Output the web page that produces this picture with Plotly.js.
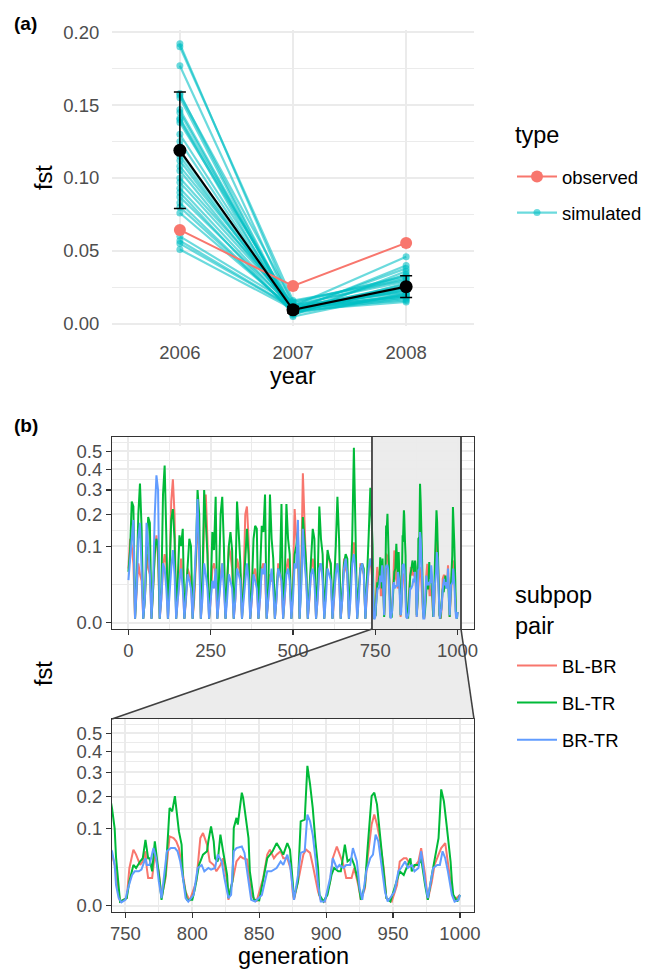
<!DOCTYPE html>
<html><head><meta charset="utf-8">
<script src="https://cdn.plot.ly/plotly-3.0.1.min.js"></script>
<style>html,body{margin:0;padding:0;background:#fff}#chart{width:657px;height:969px}</style>
</head><body><div id="chart"></div>
<script>
// ---------- Panel (a) data ----------
const years = [2006, 2007, 2008];
const yearLabels = ['2006', '2007', '2008'];
const observedFst = [0.0644, 0.026, 0.0555];
const meanFst = [0.119, 0.0096, 0.0255];
const sdFst = [0.040, 0.0022, 0.0074];
const sim2006 = [0.192, 0.051, 0.145, 0.100, 0.177, 0.087, 0.158, 0.060, 0.130, 0.112, 0.190, 0.083, 0.141, 0.097, 0.155, 0.076, 0.125, 0.108, 0.147, 0.057, 0.118, 0.090, 0.138, 0.080, 0.157, 0.105, 0.115, 0.055, 0.140, 0.093];
const sim2007 = [0.012, 0.010, 0.008, 0.014, 0.009, 0.011, 0.007, 0.013, 0.010, 0.009, 0.016, 0.008, 0.011, 0.012, 0.006, 0.010, 0.009, 0.013, 0.008, 0.011, 0.010, 0.007, 0.012, 0.009, 0.015, 0.010, 0.008, 0.011, 0.005, 0.010];
const sim2008 = [0.046, 0.020, 0.025, 0.033, 0.040, 0.019, 0.028, 0.021, 0.038, 0.023, 0.030, 0.017, 0.026, 0.022, 0.036, 0.018, 0.024, 0.029, 0.034, 0.016, 0.027, 0.020, 0.031, 0.015, 0.032, 0.023, 0.025, 0.019, 0.021, 0.018];
const fstTicksA = [0, 0.05, 0.10, 0.15, 0.20];
const fstTickTextA = ['0.00', '0.05', '0.10', '0.15', '0.20'];

// ---------- Panel (b) data ----------
const pairNames = ['BL-BR', 'BL-TR', 'BR-TR'];
const genCoarse = [];
for (let g = 0; g <= 735; g += 5) genCoarse.push(g);
const blbrCoarse = [0.05,0.12,0.10,0.06,0.0003, 0.02,0.06,0.04,0.03,0.0003, 0.01,0.08,0.05,0.04,0.0003, 0.02,0.09,0.13,0.07,0.0003, 0.01,0.05,0.08,0.06,0.0003, 0.04,0.25,0.35,0.2,0.0003, 0.01,0.04,0.07,0.03,0.0003, 0.01,0.05,0.04,0.03,0.0003, 0.01,0.06,0.15,0.1,0.0003, 0.02,0.18,0.28,0.12,0.0003, 0.01,0.05,0.06,0.04,0.0003, 0.01,0.04,0.06,0.03,0.0003, 0.02,0.10,0.08,0.05,0.0003, 0.01,0.07,0.05,0.04,0.0003, 0.03,0.2,0.23,0.12,0.0003, 0.01,0.04,0.05,0.03,0.0003, 0.01,0.05,0.06,0.04,0.0003, 0.01,0.04,0.03,0.03,0.0003, 0.01,0.06,0.04,0.03,0.0003, 0.01,0.05,0.07,0.04,0.0003, 0.03,0.22,0.12,0.08,0.0003, 0.05,0.38,0.15,0.05,0.0003, 0.01,0.05,0.07,0.04,0.0003, 0.01,0.06,0.05,0.04,0.0003, 0.02,0.08,0.07,0.05,0.0003, 0.01,0.05,0.06,0.04,0.0003, 0.01,0.07,0.05,0.04,0.0003, 0.02,0.08,0.11,0.05,0.0003, 0.02,0.06,0.05,0.04,0.0003, 0.02,0.05,0.07];
const bltrCoarse = [0.044,0.09,0.25,0.23,0.0003, 0.03,0.2,0.33,0.15,0.0003, 0.01,0.06,0.19,0.17,0.0003, 0.02,0.08,0.12,0.10,0.0003, 0.02,0.28,0.42,0.13,0.0003, 0.05,0.18,0.22,0.12,0.0003, 0.03,0.13,0.10,0.15,0.0003, 0.02,0.06,0.12,0.10,0.0003, 0.02,0.08,0.30,0.2,0.0003, 0.03,0.30,0.15,0.08,0.0003, 0.02,0.14,0.09,0.27,0.0003, 0.03,0.2,0.27,0.1,0.0003, 0.02,0.1,0.14,0.09,0.0003, 0.03,0.25,0.12,0.06,0.0003, 0.02,0.1,0.15,0.08,0.0003, 0.02,0.12,0.16,0.15,0.0003, 0.03,0.16,0.14,0.28,0.0003, 0.02,0.28,0.12,0.07,0.0003, 0.02,0.05,0.04,0.24,0.0003, 0.03,0.24,0.12,0.08,0.0003, 0.02,0.08,0.10,0.14,0.0003, 0.03,0.19,0.12,0.06,0.0003, 0.02,0.06,0.15,0.12,0.0003, 0.03,0.23,0.12,0.08,0.0003, 0.02,0.09,0.07,0.06,0.0003, 0.02,0.10,0.27,0.12,0.0003, 0.02,0.06,0.08,0.07,0.0003, 0.03,0.12,0.52,0.08,0.0003, 0.02,0.05,0.06,0.05,0.0003, 0.03,0.13,0.31];
const brtrCoarse = [0.031,0.08,0.12,0.18,0.0003, 0.02,0.12,0.17,0.05,0.0003, 0.01,0.17,0.10,0.04,0.0003, 0.03,0.2,0.37,0.3,0.0003, 0.01,0.06,0.05,0.02,0.0003, 0.02,0.05,0.09,0.04,0.0003, 0.01,0.03,0.05,0.02,0.0003, 0.01,0.04,0.03,0.02,0.0003, 0.02,0.1,0.26,0.08,0.0003, 0.01,0.06,0.04,0.02,0.0003, 0.01,0.03,0.02,0.05,0.0003, 0.01,0.03,0.06,0.02,0.0003, 0.01,0.04,0.03,0.02,0.0003, 0.01,0.05,0.04,0.03,0.0003, 0.01,0.03,0.06,0.03,0.0003, 0.01,0.04,0.03,0.02,0.0003, 0.01,0.05,0.04,0.06,0.0003, 0.01,0.03,0.05,0.02,0.0003, 0.01,0.05,0.04,0.03,0.0003, 0.01,0.04,0.05,0.03,0.0003, 0.01,0.06,0.05,0.18,0.0003, 0.02,0.15,0.06,0.03,0.0003, 0.01,0.04,0.05,0.03,0.0003, 0.01,0.05,0.06,0.03,0.0003, 0.01,0.05,0.04,0.03,0.0003, 0.01,0.04,0.06,0.03,0.0003, 0.01,0.05,0.07,0.04,0.0003, 0.01,0.06,0.08,0.04,0.0003, 0.01,0.05,0.06,0.04,0.0003, 0.02,0.05,0.07];

const blbrGenFine = [740,742,746,751,753,756,758,761,763,765,766,767,770,771,772,775,777,780,782,783,786,788,790,792,795,798,803,806,808,811,813,816,818,821,823,826,827,831,833,836,838,841,842,844,848,853,856,858,861,863,866,868,871,874,875,876,880,883,885,888,890,892,894,896,899,903,905,908,910,913,915,919,921,924,926,929,931,934,936,938,940,943,945,949,953,955,958,960,963,965,969,971,974,976,979,981,984,986,989,991,994,996,1000];
const blbrFine = [0.044,0.028,0.0003,0.001,0.024,0.053,0.044,0.028,0.033,0.050,0.024,0.013,0.013,0.028,0.044,0.020,0.001,0.013,0.050,0.081,0.077,0.070,0.056,0.028,0.0033,0.0004,0.0098,0.077,0.089,0.063,0.033,0.028,0.020,0.028,0.038,0.0098,0.0006,0.016,0.033,0.041,0.038,0.036,0.020,0.002,0.0003,0.013,0.044,0.053,0.038,0.044,0.050,0.038,0.038,0.020,0.0033,0.0006,0.016,0.044,0.053,0.047,0.028,0.013,0.0033,0.0006,0.0003,0.0098,0.038,0.059,0.044,0.028,0.013,0.013,0.024,0.0073,0.0006,0.0052,0.038,0.111,0.140,0.111,0.077,0.024,0.001,0.0003,0.0073,0.033,0.038,0.038,0.028,0.024,0.033,0.056,0.016,0.0006,0.0098,0.028,0.044,0.056,0.066,0.028,0.0033,0.0006,0.002];
const bltrGenFine = [740,742,743,746,751,753,756,758,761,763,765,767,768,770,772,773,776,777,780,782,783,785,787,788,790,792,793,796,800,802,805,808,811,812,814,816,817,819,821,823,826,827,830,831,833,834,836,837,838,840,842,843,846,850,852,856,860,863,866,868,871,873,875,876,879,881,884,886,888,890,892,894,895,898,901,904,906,909,911,914,916,919,921,924,926,929,931,934,936,938,940,943,945,948,953,955,958,960,963,964,966,969,971,974,976,979,981,984,986,988,990,993,994,995,998,1000];
const bltrFine = [0.16,0.10,0.04,0.0003,0.001,0.010,0.028,0.024,0.033,0.038,0.073,0.038,0.038,0.020,0.070,0.050,0.007,0.0006,0.016,0.093,0.161,0.150,0.202,0.161,0.093,0.063,0.013,0.0006,0.0006,0.005,0.028,0.044,0.050,0.070,0.106,0.070,0.038,0.033,0.085,0.050,0.016,0.001,0.010,0.102,0.130,0.111,0.173,0.215,0.196,0.120,0.077,0.020,0.0006,0.0005,0.007,0.038,0.050,0.066,0.053,0.044,0.066,0.053,0.010,0.001,0.010,0.120,0.125,0.329,0.248,0.161,0.070,0.024,0.002,0.0003,0.002,0.016,0.024,0.020,0.020,0.063,0.033,0.038,0.028,0.010,0.0006,0.007,0.056,0.202,0.215,0.173,0.093,0.024,0.001,0.0003,0.010,0.020,0.016,0.024,0.038,0.020,0.028,0.028,0.038,0.007,0.0006,0.016,0.033,0.077,0.228,0.184,0.111,0.033,0.010,0.002,0.0003,0.002];
const brtrGenFine = [740,742,743,745,747,750,752,755,757,760,762,765,766,768,769,771,773,775,777,779,781,784,787,789,791,793,795,797,801,804,807,809,812,814,817,819,822,824,827,829,831,833,837,839,842,844,847,852,856,859,863,866,868,871,873,875,876,879,881,884,886,888,890,892,894,896,899,903,905,908,910,913,915,918,920,923,925,927,930,933,935,937,939,941,944,946,951,954,956,959,961,964,966,969,971,974,976,980,983,985,987,989,991,994,996,999,1000];
const brtrFine = [0.050,0.028,0.0073,0.001,0.0002,0.0006,0.0052,0.016,0.020,0.020,0.022,0.038,0.028,0.028,0.038,0.056,0.038,0.0098,0.001,0.020,0.050,0.056,0.056,0.050,0.033,0.013,0.001,0.0003,0.002,0.024,0.028,0.020,0.024,0.022,0.024,0.044,0.033,0.013,0.001,0.002,0.050,0.056,0.059,0.047,0.0098,0.0006,0.0003,0.002,0.020,0.020,0.024,0.033,0.028,0.044,0.028,0.0033,0.0006,0.016,0.047,0.050,0.140,0.120,0.085,0.038,0.0073,0.0003,0.0003,0.013,0.038,0.024,0.028,0.024,0.028,0.028,0.056,0.033,0.0052,0.0006,0.020,0.038,0.044,0.085,0.070,0.033,0.0033,0.0003,0.0033,0.020,0.024,0.033,0.024,0.028,0.020,0.024,0.050,0.0098,0.001,0.024,0.028,0.028,0.050,0.038,0.020,0.002,0.0003,0.0006,0.002];

const fstTicksB = [0, 0.1, 0.2, 0.3, 0.4, 0.5];
const fstTickTextB = ['0.0', '0.1', '0.2', '0.3', '0.4', '0.5'];
const genTicksTop = [0, 250, 500, 750, 1000];
const genTicksZoom = [750, 800, 850, 900, 950, 1000];
const zoomWindow = [740, 1010.5];

// ---------- layout geometry ----------
const W = 657, H = 969;
const FONT = 'Liberation Sans, Arial, sans-serif';
const px = v => v / W, py = v => 1 - v / H;
const domX = [112 / W, 474 / W];
const domA = [py(326), py(30)];
const domB1 = [py(629), py(437)];
const domB2 = [py(912), py(719)];
const rangeB1x = [-50, 1050];
const rangeBy = [-0.0255, 0.766];
const GRID = '#EBEBEB';
const colObs = '#F8766D', colSim = 'rgba(0,191,196,0.58)';
const pairCols = ['#F8766D', '#00BA38', '#619CFF'];

const sqrtT = v => Math.sqrt(v);
const majorB = fstTicksB.map(sqrtT);
const minorB = [];
for (let i = 0; i < majorB.length - 1; i++) minorB.push((majorB[i] + majorB[i + 1]) / 2);
minorB.push(majorB[majorB.length - 1] + (majorB[majorB.length - 1] - majorB[majorB.length - 2]) / 2);

const traces = [];
for (let i = 0; i < sim2006.length; i++) {
  traces.push({
    x: years, y: [sim2006[i], sim2007[i], sim2008[i]], xaxis: 'x', yaxis: 'y',
    type: 'scatter', mode: 'lines+markers', name: 'simulated', legend: 'legend',
    legendgroup: 'sim', legendrank: 2, showlegend: i === 0,
    line: {color: colSim, width: 2.2}, marker: {color: colSim, size: 7}
  });
}
traces.push({
  x: years, y: observedFst, xaxis: 'x', yaxis: 'y', type: 'scatter', mode: 'lines+markers',
  name: 'observed', legend: 'legend', legendgroup: 'obs', legendrank: 1,
  line: {color: colObs, width: 2}, marker: {color: colObs, size: 12}
});
traces.push({
  x: years, y: meanFst, xaxis: 'x', yaxis: 'y', type: 'scatter', mode: 'lines+markers',
  showlegend: false, line: {color: 'black', width: 2.2}, marker: {color: 'black', size: 13},
  error_y: {type: 'data', array: sdFst, visible: true, color: 'black', thickness: 1.5, width: 6}
});

const series = [
  [blbrCoarse, blbrGenFine, blbrFine],
  [bltrCoarse, bltrGenFine, bltrFine],
  [brtrCoarse, brtrGenFine, brtrFine]
];
series.forEach((s, k) => {
  const xs = genCoarse.concat(s[1]);
  const ys = s[0].concat(s[2]).map(sqrtT);
  [['x2', 'y2'], ['x3', 'y3']].forEach((ax, j) => {
    traces.push({
      x: xs, y: ys, xaxis: ax[0], yaxis: ax[1], type: 'scatter', mode: 'lines',
      name: pairNames[k], legend: 'legend2', legendgroup: pairNames[k], legendrank: k + 1, showlegend: j === 0,
      line: {color: pairCols[k], width: 2}
    });
  });
});

const tickFont = {family: FONT, size: 18.5, color: '#4D4D4D'};
const minorGrid = vals => ({tickmode: 'array', tickvals: vals, showgrid: true, gridcolor: GRID, gridwidth: 1});
const axBase = {zeroline: false, tickfont: tickFont, gridcolor: GRID, gridwidth: 2, fixedrange: true};
const boxAx = Object.assign({}, axBase, {showline: true, mirror: true, linecolor: '#333333', linewidth: 1.1,
  ticks: 'outside', ticklen: 5, tickcolor: '#333333', tickwidth: 1.1});

const xB1 = v => domX[0] + (v - rangeB1x[0]) / (rangeB1x[1] - rangeB1x[0]) * (domX[1] - domX[0]);
const zl = xB1(zoomWindow[0]), zr = xB1(zoomWindow[1]);
const zoomFill = 'rgba(217,217,217,0.5)', zoomLine = '#404040';
const titleFont = {family: FONT, size: 23.5, color: 'black'};

const layout = {
  width: W, height: H, margin: {l: 0, r: 0, t: 0, b: 0},
  paper_bgcolor: 'white', plot_bgcolor: 'white',
  font: {family: FONT, color: 'black'},
  showlegend: true,
  xaxis: Object.assign({}, axBase, {domain: domX, anchor: 'y', range: [2005.4, 2008.6],
    tickmode: 'array', tickvals: years, ticktext: yearLabels, ticks: 'outside', ticklen: 10, tickcolor: 'rgba(0,0,0,0)'}),
  yaxis: Object.assign({}, axBase, {domain: domA, anchor: 'x', range: [-0.0015, 0.2015],
    tickmode: 'array', tickvals: fstTicksA, ticktext: fstTickTextA, ticks: 'outside', ticklen: 8, tickcolor: 'rgba(0,0,0,0)',
    minor: minorGrid([0.025, 0.075, 0.125, 0.175])}),
  xaxis2: Object.assign({}, boxAx, {domain: domX, anchor: 'y2', range: rangeB1x,
    tickmode: 'array', tickvals: genTicksTop, ticktext: genTicksTop.map(String),
    minor: minorGrid([125, 375, 625, 875])}),
  yaxis2: Object.assign({}, boxAx, {domain: domB1, anchor: 'x2', range: rangeBy,
    tickmode: 'array', tickvals: majorB, ticktext: fstTickTextB, minor: minorGrid(minorB)}),
  xaxis3: Object.assign({}, boxAx, {domain: domX, anchor: 'y3', range: zoomWindow,
    tickmode: 'array', tickvals: genTicksZoom, ticktext: genTicksZoom.map(String),
    minor: minorGrid([775, 825, 875, 925, 975])}),
  yaxis3: Object.assign({}, boxAx, {domain: domB2, anchor: 'x3', range: rangeBy,
    tickmode: 'array', tickvals: majorB, ticktext: fstTickTextB, minor: minorGrid(minorB)}),
  legend: {x: px(512), y: py(158), xanchor: 'left', yanchor: 'top', bgcolor: 'rgba(0,0,0,0)',
    font: {family: FONT, size: 18.5, color: 'black'}, traceorder: 'grouped', tracegroupgap: 9, itemsizing: 'trace', itemwidth: 40},
  legend2: {x: px(512), y: py(647), xanchor: 'left', yanchor: 'top', bgcolor: 'rgba(0,0,0,0)',
    font: {family: FONT, size: 18.5, color: 'black'}, traceorder: 'grouped', tracegroupgap: 10, itemwidth: 40},
  shapes: [
    {type: 'rect', xref: 'x2', yref: 'paper', x0: zoomWindow[0], x1: zoomWindow[1], y0: domB1[0], y1: domB1[1],
      fillcolor: zoomFill, line: {width: 0}, layer: 'below'},
    {type: 'path', xref: 'paper', yref: 'paper', layer: 'below', fillcolor: zoomFill, line: {width: 0},
      path: 'M' + zl + ',' + domB1[0] + ' L' + zr + ',' + domB1[0] + ' L' + domX[1] + ',' + domB2[1] + ' L' + domX[0] + ',' + domB2[1] + ' Z'},
    {type: 'line', xref: 'paper', yref: 'paper', x0: zl, x1: zl, y0: domB1[0], y1: domB1[1], line: {color: zoomLine, width: 1.8}},
    {type: 'line', xref: 'paper', yref: 'paper', x0: zr, x1: zr, y0: domB1[0], y1: domB1[1], line: {color: zoomLine, width: 1.8}},
    {type: 'line', xref: 'paper', yref: 'paper', x0: zl, y0: domB1[0], x1: domX[0], y1: domB2[1], line: {color: zoomLine, width: 1.6}},
    {type: 'line', xref: 'paper', yref: 'paper', x0: zr, y0: domB1[0], x1: domX[1], y1: domB2[1], line: {color: zoomLine, width: 1.6}}
  ],
  annotations: [
    {text: '<b>(a)</b>', x: px(12), y: py(23), xref: 'paper', yref: 'paper', xanchor: 'left', yanchor: 'middle', showarrow: false, font: {family: FONT, size: 19, color: 'black'}},
    {text: '<b>(b)</b>', x: px(12), y: py(426), xref: 'paper', yref: 'paper', xanchor: 'left', yanchor: 'middle', showarrow: false, font: {family: FONT, size: 19, color: 'black'}},
    {text: 'fst', x: px(44), y: py(178), xref: 'paper', yref: 'paper', xanchor: 'center', yanchor: 'middle', textangle: -90, showarrow: false, font: titleFont},
    {text: 'year', x: px(293), y: py(376), xref: 'paper', yref: 'paper', xanchor: 'center', yanchor: 'middle', showarrow: false, font: titleFont},
    {text: 'fst', x: px(44), y: py(674), xref: 'paper', yref: 'paper', xanchor: 'center', yanchor: 'middle', textangle: -90, showarrow: false, font: titleFont},
    {text: 'generation', x: px(293), y: py(956), xref: 'paper', yref: 'paper', xanchor: 'center', yanchor: 'middle', showarrow: false, font: titleFont},
    {text: 'type', x: px(513), y: py(135), xref: 'paper', yref: 'paper', xanchor: 'left', yanchor: 'middle', showarrow: false, font: titleFont},
    {text: 'subpop<br>pair', x: px(513), y: py(610), xref: 'paper', yref: 'paper', xanchor: 'left', yanchor: 'middle', align: 'left', showarrow: false, font: titleFont}
  ]
};

Plotly.newPlot('chart', traces, layout, {staticPlot: true, displayModeBar: false});
</script>
</body></html>
